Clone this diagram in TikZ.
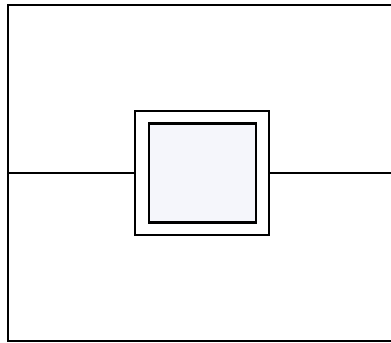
\documentclass[tikz,border=0pt]{standalone}
\usepackage{tikz}
\definecolor{panefill}{RGB}{245,246,251}
\tikzset{
    framebox/.style={draw=black, line width=1.6pt, minimum width=134*0.025cm, minimum height=124*0.025cm, inner sep=0pt, fill=white},
    panebox/.style={draw=black, line width=1.6pt, minimum width=107*0.025cm, minimum height=99*0.025cm, inner sep=0pt, fill=panefill},
    wire/.style={-, line width=0.8pt}
}
\begin{document}
\begin{tikzpicture}[x=0.025cm, y=-0.025cm]
    \useasboundingbox (0,0) rectangle (391,343);
    \draw[line width=0.8pt] (395,5) -- (8,5) -- (8,341) -- (395,341);

    \coordinate (L) at (8,173);
    \coordinate (R) at (395,173);
    \node[framebox] (outer) at (202,173) {};
    \node[panebox] (inner) at (202.5,173) {};

    \path [wire](L) edge (outer.west);
    \path [wire](outer.east) edge (R);
\end{tikzpicture}
\end{document}
